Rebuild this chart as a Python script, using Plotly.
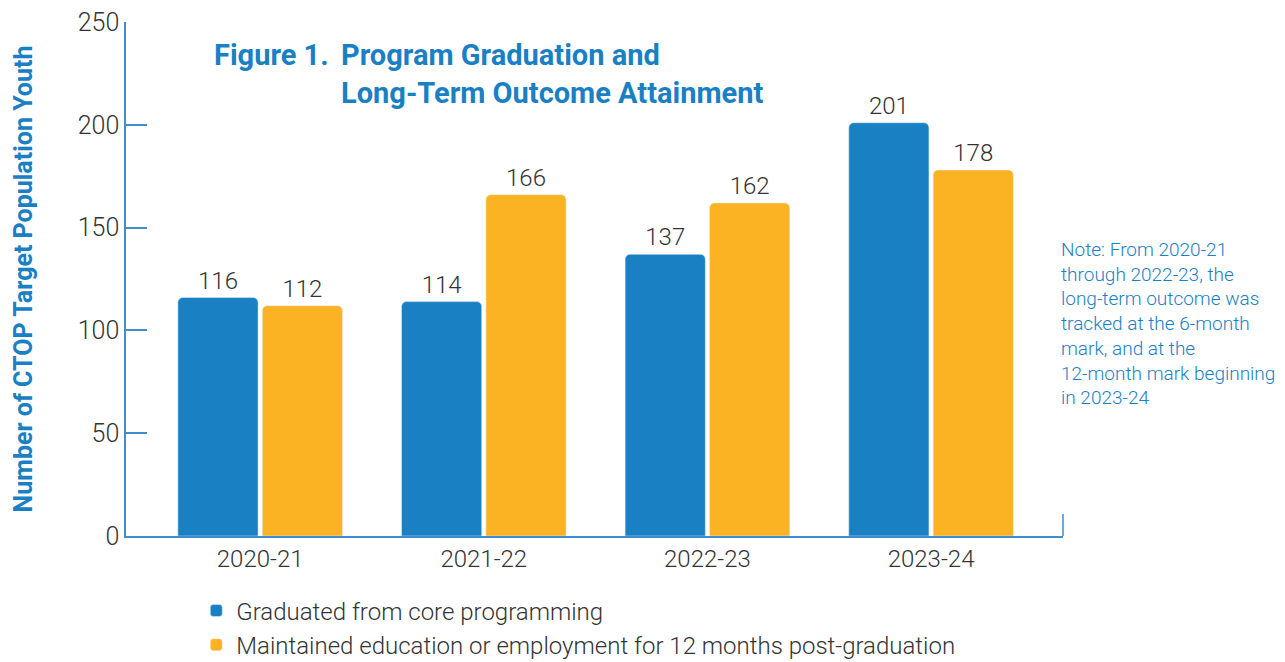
import plotly.graph_objects as go

categories = ["2020-21", "2021-22", "2022-23", "2023-24"]
graduated = [116, 114, 137, 201]
maintained = [112, 166, 162, 178]
series_names = ["Graduated from core programming",
                "Maintained education or employment for 12 months post-graduation"]
y_ticks = [0, 50, 100, 150, 200, 250]

BLUE = "#1a80c4"
ORANGE = "#fbb323"
AXIS = "#3d8fd0"
TEXT = "#333333"
FONT = "Roboto, Arial"

fig = go.Figure()
fig.add_trace(go.Bar(x=categories, y=graduated, name=series_names[0],
                     marker=dict(color=BLUE, cornerradius=5),
                     text=graduated, textposition="outside",
                     textfont=dict(size=24, color=TEXT, weight=300), cliponaxis=False))
fig.add_trace(go.Bar(x=categories, y=maintained, name=series_names[1],
                     marker=dict(color=ORANGE, cornerradius=5),
                     text=maintained, textposition="outside",
                     textfont=dict(size=24, color=TEXT, weight=300), cliponaxis=False))

fig.update_layout(
    width=1285, height=662,
    margin=dict(l=126, r=222, t=22, b=126, autoexpand=False),
    paper_bgcolor="white", plot_bgcolor="white",
    font=dict(family=FONT, color=TEXT, size=22),
    barmode="group", bargap=0.245, bargroupgap=0.05,
    showlegend=True,
    legend=dict(orientation="v", x=0.075, xanchor="left", y=-0.102, yanchor="top",
                font=dict(size=24, color=TEXT, weight=300), tracegroupgap=0, itemwidth=30,
                bgcolor="rgba(0,0,0,0)"),
    xaxis=dict(range=[-0.6, 3.59], showline=True, linecolor=AXIS, linewidth=2,
               ticks="", tickfont=dict(size=24, color=TEXT, weight=300), showgrid=False,
               zeroline=False),
    yaxis=dict(range=[0, 250], tickvals=y_ticks, showline=True, linecolor=AXIS,
               linewidth=1.5, ticks="inside", ticklen=21, tickcolor=AXIS,
               tickwidth=1.5, tickfont=dict(size=25, color=TEXT, weight=300), showgrid=False,
               zeroline=False,
               title=dict(text="<b>Number of CTOP Target Population Youth</b>",
                          font=dict(size=25, color=BLUE), standoff=38)),
)

# right-end tick on x axis
fig.add_shape(type="line", xref="paper", yref="paper", x0=1, x1=1, y0=0, y1=0.043,
              line=dict(color=AXIS, width=1.5))

fig.add_annotation(xref="paper", yref="paper", x=(212 - 126) / 937, y=1 - (55 - 22) / 514,
                   xanchor="left", yanchor="middle", showarrow=False,
                   text="<b>Figure 1.</b>", font=dict(size=29, color=BLUE))
fig.add_annotation(xref="paper", yref="paper", x=(339 - 126) / 937, y=1 - (74 - 22) / 514,
                   xanchor="left", yanchor="middle", showarrow=False, align="left",
                   text="<b>Program Graduation and<br>Long-Term Outcome Attainment</b>",
                   font=dict(size=29, color=BLUE))
fig.add_annotation(xref="paper", yref="paper", x=(1059 - 126) / 937, y=1 - (236 - 22) / 514,
                   xanchor="left", yanchor="top", showarrow=False, align="left",
                   text=("Note: From 2020-21<br>through 2022-23, the<br>long-term outcome was<br>"
                         "tracked at the 6-month<br>mark, and at the<br>12-month mark beginning<br>in 2023-24"),
                   font=dict(size=19, color=BLUE, weight=300))

fig.write_html("out.html")
